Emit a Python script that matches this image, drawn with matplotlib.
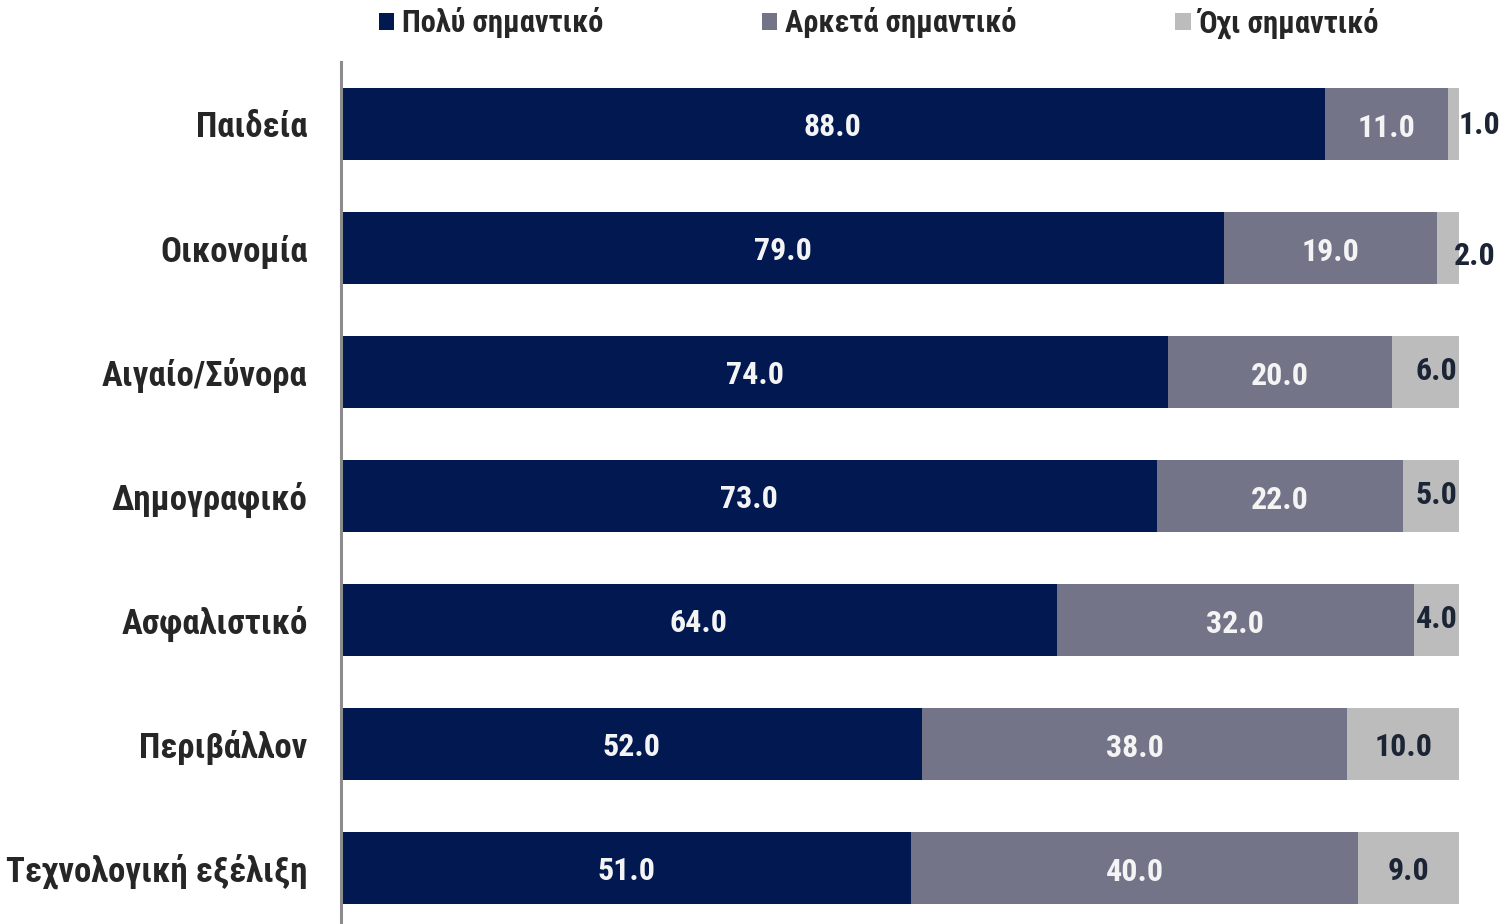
import matplotlib
matplotlib.use("Agg")
import matplotlib.pyplot as plt
from matplotlib import font_manager
from matplotlib.patches import Patch

categories = ["Παιδεία", "Οικονομία", "Αιγαίο/Σύνορα", "Δημογραφικό",
              "Ασφαλιστικό", "Περιβάλλον", "Τεχνολογική εξέλιξη"]
very = [88.0, 79.0, 74.0, 73.0, 64.0, 52.0, 51.0]
quite = [11.0, 19.0, 20.0, 22.0, 32.0, 38.0, 40.0]
notimp = [1.0, 2.0, 6.0, 5.0, 4.0, 10.0, 9.0]
series_names = ["Πολύ σημαντικό", "Αρκετά σημαντικό", "Όχι σημαντικό"]
colors = ["#021850", "#747489", "#bcbcbc"]

names = {f.name for f in font_manager.fontManager.ttflist}
prefs = ["Liberation Sans Narrow", "Roboto Condensed", "Open Sans Condensed",
         "Noto Sans Condensed", "DejaVu Sans"]
narrow = next(p for p in prefs if p in names or p == "DejaVu Sans")
FAM = [narrow, "DejaVu Sans"]
small = narrow == "DejaVu Sans"
VS = 18 if small else 23
CS = 20 if small else 25
LS = 17 if small else 22

fig = plt.figure(figsize=(15.08, 9.24), dpi=100)
W, H = 1508, 924
left_px, right_px, top_px, bot_px = 341, 1459, 62, 930
ax = fig.add_axes([left_px / W, 1 - bot_px / H, (right_px - left_px) / W, (bot_px - top_px) / H])

ypos = list(range(len(categories)))
bh = 0.58
lefts = [0.0] * len(categories)
for vals, col, name in zip([very, quite, notimp], colors, series_names):
    ax.barh(ypos, vals, left=lefts, height=bh, color=col, label=name, edgecolor="none")
    lefts = [l + v for l, v in zip(lefts, vals)]

# value labels
dy = 0.025
for i in ypos:
    v1, v2, v3 = very[i], quite[i], notimp[i]
    ax.text(v1 / 2, i + dy, f"{v1:.1f}", ha="center", va="center", color="#f4f4f4",
            fontsize=VS, fontweight="bold", family=FAM)
    ax.text(v1 + v2 / 2, i + dy + 0.005, f"{v2:.1f}", ha="center", va="center", color="#f4f4f4",
            fontsize=VS, fontweight="bold", family=FAM)
    total = v1 + v2 + v3
    if v3 <= 2:
        ax.text(total - (0.0 if v3 <= 1 else 0.5), i + dy + (0.04 if v3 > 1 else -0.02),
                f"{v3:.1f}", ha="left", va="center", color="#1c2536", fontsize=VS,
                fontweight="bold", family=FAM, clip_on=False)
    elif v3 <= 7:
        ax.text(total - 0.15, i + dy - 0.03, f"{v3:.1f}", ha="right", va="center",
                color="#1c2536", fontsize=VS, fontweight="bold", family=FAM)
    else:
        ax.text(v1 + v2 + v3 / 2, i + dy, f"{v3:.1f}", ha="center", va="center",
                color="#1c2536", fontsize=VS, fontweight="bold", family=FAM)

ax.set_xlim(0, 100)
ax.set_ylim(len(categories) - 0.5, -0.5)
ax.set_yticks(ypos)
ax.set_yticklabels(categories, fontsize=CS, fontweight="bold", family=FAM, color="#262626")
ax.tick_params(axis="y", length=0, pad=24)
ax.set_xticks([])
for s in ["top", "right", "bottom"]:
    ax.spines[s].set_visible(False)
ax.spines["left"].set_color("#8c8c8c")
ax.spines["left"].set_linewidth(2.2)

handles = [Patch(facecolor=c, edgecolor="none") for c in colors]
leg = fig.legend(handles, series_names, loc="center left", bbox_to_anchor=(379 / W, 1 - 23 / H),
                 ncol=3, frameon=False, handlelength=0.5, handleheight=0.5, handletextpad=0.25,
                 columnspacing=5.2, borderaxespad=0, borderpad=0,
                 prop={"family": FAM, "weight": "bold", "size": LS})
for t in leg.get_texts():
    t.set_color("#262626")

fig.savefig("out.png", dpi=100)
